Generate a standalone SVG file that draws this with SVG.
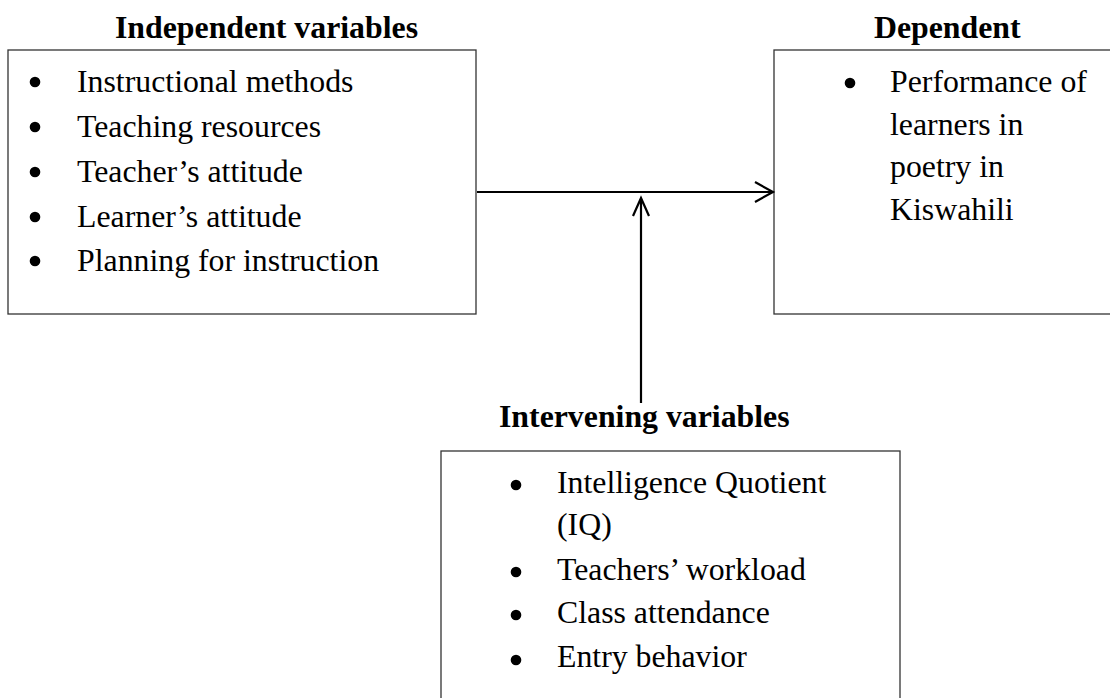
<svg xmlns="http://www.w3.org/2000/svg" width="1110" height="698" viewBox="0 0 1110 698">
<style>
.box{fill:#fff;stroke:#333;stroke-width:1.3}
.t{font-family:"Liberation Serif","Times New Roman",serif;font-size:31.8px;fill:#000}
.h{font-family:"Liberation Serif","Times New Roman",serif;font-size:31.8px;font-weight:bold;fill:#000}
.b{fill:#000}
.c{stroke:#000;stroke-width:2.2;fill:none}
</style>
<rect width="1110" height="698" fill="#fff"/>
<g id="independent">
<text class="h" x="115" y="38">Independent variables</text>
<rect class="box" x="8" y="50" width="468" height="264"/>
<circle class="b" cx="35" cy="82" r="5.3"/><text class="t" x="77" y="92">Instructional methods</text>
<circle class="b" cx="35" cy="127" r="5.3"/><text class="t" x="77" y="137">Teaching resources</text>
<circle class="b" cx="35" cy="172" r="5.3"/><text class="t" x="77" y="182">Teacher’s attitude</text>
<circle class="b" cx="35" cy="217" r="5.3"/><text class="t" x="77" y="227">Learner’s attitude</text>
<circle class="b" cx="35" cy="261" r="5.3"/><text class="t" x="77" y="271">Planning for instruction</text>
</g>
<g id="dependent">
<text class="h" x="874" y="38">Dependent</text>
<rect class="box" x="774" y="50" width="345" height="264"/>
<circle class="b" cx="850" cy="83" r="5.3"/>
<text class="t" x="890" y="92">Performance of</text>
<text class="t" x="890" y="135">learners in</text>
<text class="t" x="890" y="177">poetry in</text>
<text class="t" x="890" y="220">Kiswahili</text>
</g>
<g id="intervening">
<text class="h" x="499" y="427">Intervening variables</text>
<rect class="box" x="441" y="451" width="459" height="260"/>
<circle class="b" cx="516" cy="485" r="5.3"/><text class="t" x="557" y="493">Intelligence Quotient</text>
<text class="t" x="557" y="535">(IQ)</text>
<circle class="b" cx="516" cy="572" r="5.3"/><text class="t" x="557" y="580">Teachers’ workload</text>
<circle class="b" cx="516" cy="615" r="5.3"/><text class="t" x="557" y="623">Class attendance</text>
<circle class="b" cx="516" cy="660" r="5.3"/><text class="t" x="557" y="667">Entry behavior</text>
</g>
<g id="connectors">
<path class="c" d="M477 192 H773 M755 182 L773 192 L755 202"/>
<path class="c" d="M641 403 V198 M633 216 L641 198 L649 216"/>
</g>
</svg>
